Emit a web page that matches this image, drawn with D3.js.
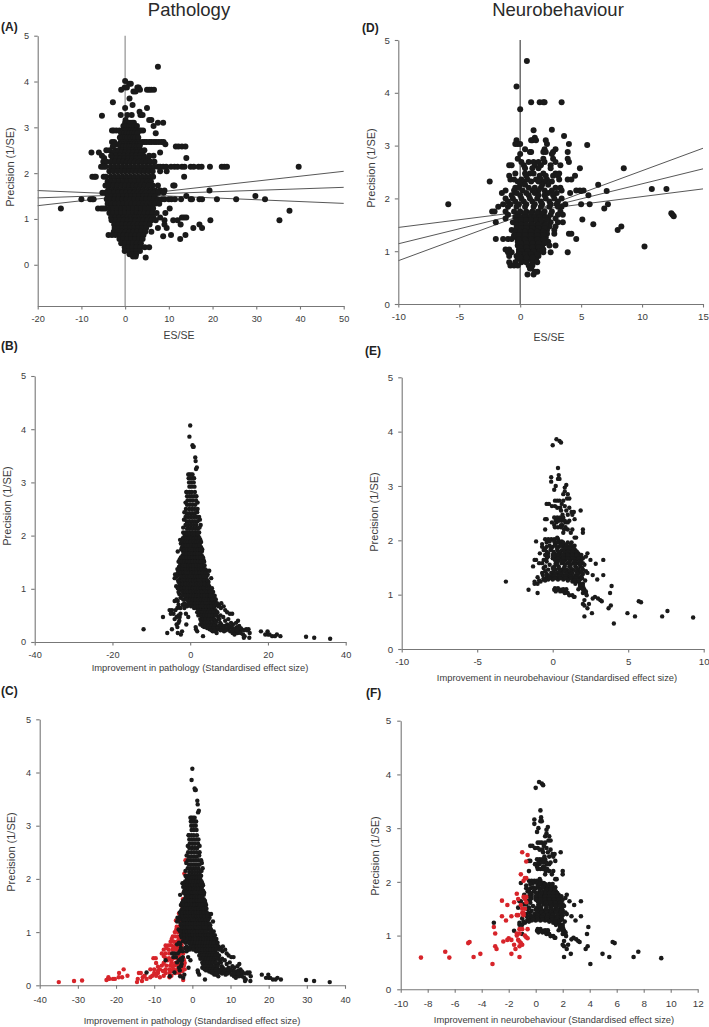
<!DOCTYPE html>
<html><head><meta charset="utf-8">
<script src="https://cdnjs.cloudflare.com/ajax/libs/d3/7.8.5/d3.min.js"></script>
<style>html,body{margin:0;background:#fff}svg{display:block}text{font-family:"Liberation Sans",Arial,sans-serif}</style>
</head><body><div id="c"></div>
<script>
// Each row: [precision, [x values at that precision]]
const rowsA = [
[4.32,[7.5]],[4.01,[0]],[3.95,[.9,1.3]],[3.87,[-.1,.4,2.8,3.1]],[3.82,[-.9,3.4,5,5.5,6,6.6]],[3.78,[1.9,2.4]],[3.63,[1]],[3.55,[-2.8]],[3.49,[1.7]],[3.42,[0,5]],[3.34,[3.3]],[3.27,[-1,.5,1.5,3.5,4]],[3.25,[-5.3]],[3.16,[.1,5.5,6]],[3.1,[0,.5,1.1,1.6,2,7.5,8.7]],[3.03,[-.4,.3,.9,1.5,2.1,2.7,6.5]],
[2.93,[-3,-2.6,-2,-1.3,-.5,.1,.7,1.3,1.9,2.5,3.2,3.6,4.1]],[2.87,[-.9,-.2,.4,1,1.6,2.2,2.8,7]],[2.78,[-1.2,-.6,0,.6,1.2,1.8,2.4,3]],
[2.68,[-3,-2.5,-1,-.4,.2,.8,1.4,2,2.6,3.2,3.9,4.4,4.9,5.5,6,6.6,7.1,7.7,8.3,8.8]],[2.63,[-2.2,-1.4,-.8,-.2,.4,1,1.6,2.2,2.8,3.4,9.2]],
[2.58,[-2.8,-1.1,-.4,.3,.9,1.5,2.1,2.7,3.3,11.6,12.2,13,13.8]],[2.5,[-4.3,-3.5,-2.2,-1.3,-.6,.2,1,1.8,2.6,3.4,4.4]],[2.45,[-7.7,-6,-2.6,-1.7,-.8,.1,1,1.9,2.8,3.7,8]],
[2.38,[-5.3,-3.2,-2,-1.1,-.2,.7,1.6,2.5,3.4,4.2,5.5,6.5]],[2.33,[-4.8,-2.8,-1.9,-1,-.1,.8,1.7,2.6,3.5,4.4,5.3,14]],[2.25,[-5,-4.2,-3.2,-2.3,-1.4,-.5,.4,1.3,2.2,3.1,4,4.9,5.8,6.7]],
[2.14,[-5.5,-5,-4.5,-3.3,-2.4,-1.5,-.6,.3,1.2,2.1,3,3.9,4.8,5.7,6.6,7.5,8,8.7,9.4,10.5,11.3,12,13,13.6,15,15.7,16.8,17.5,19.4,22.1,22.7,23.3,39.7]],
[2.04,[-3.6,-2.7,-1.8,-.9,0,.9,1.8,2.7,3.6,4.5,5.4,6.3,8,9.5]],[1.92,[-7.5,-7,-6.7,-4.9,-4.4,-3.3,-2.4,-1.5,-.6,.3,1.2,2.1,3,3.9,4.8,5.7,6.4,13.5]],
[1.82,[-4,-3.1,-2.2,-1.3,-.4,.5,1.4,2.3,3.2,4.1,5,5.9]],[1.73,[-4.5,-3.6,-2.7,-1.8,-.9,0,.9,1.8,2.7,3.6,4.5,5.4,6.3,7.5,11,11.3]],
[1.62,[-3.9,-3,-2.1,-1.2,-.3,.6,1.5,2.4,3.3,4.2,5.1,6,6.9,8,9,19.3]],[1.57,[-5.2,-4.5,-3.4,-2.5,-1.6,-.7,.2,1.1,2,2.9,3.8,4.7,5.6,6.5,7.6,8.8]],
[1.5,[-4,-3.1,-2.2,-1.3,-.4,.5,1.4,2.3,3.2,4.1,5,5.9,6.8,14,29.8]],[1.43,[-10,-8,-7.5,-7.2,-4.2,-3.3,-2.4,-1.5,-.6,.3,1.2,2.1,3,3.9,4.8,5.7,6.6,7.5,8.4,9,10,10.6,11.4,12.8,15,15.3,17,17.6,21,25.4,32]],
[1.33,[-4,-3.1,-2.2,-1.3,-.4,.5,1.4,2.3,3.2,4.1,5,5.9,6.8,7.8]],[1.23,[-14.7,-6.2,-5.5,-5,-4.5,-3.5,-2.6,-1.7,-.8,.1,1,1.9,2.8,3.7,4.6,5.5,6.4,10.2]],
[1.13,[-3.6,-2.7,-1.8,-.9,0,.9,1.8,2.7,3.6,4.5,5.4,6.3,7.2,9.2]],[1.03,[-3.2,-2.3,-1.4,-.5,.4,1.3,2.2,3.1,4,4.9,5.8,6.5,8,13,13.5,14]],
[.97,[-3.1,-2.1,-1.2,-.3,.6,1.5,2.4,3.3,4.2,5.1,6,7,9,11,12,19.5,35.3]],[.88,[-2.5,-1.6,-.7,.2,1.1,2,2.9,3.8,4.7,5.6,9,12.7,17]],
[1.18,[37.6]],[.8,[-2.4,-1.5,-.6,.3,1.2,2.1,3,3.9,4.8,7.5,9.5,15.6,17.6]],[.72,[-2.6,-1.7,-.8,.1,1,1.9,2.8,3.7,4.6,6]],
[.65,[-3.8,-3,-2.2,-1.2,-.3,.6,1.5,2.4,3.3,4.2,10.5,13.8]],[.62,[8.7]],[.56,[-1.3,-.4,.5,1.4,2.3,3.2,4,12.6]],[.47,[-.9,0,.9,1.8,2.7,3.6]],
[.38,[-.1,.8,1.7,2.6,3.5,4.5,5.5]],[.3,[-.1,.9,1.7,2.5,3.4]],[.23,[1,1.7,2.5]],[.18,[1.8,2.4]],[.16,[4.7]]
];
const linesAxA = [-20,50];
const linesAyA = [[1.29,2.04],[1.46,1.69],[1.62,1.34]];

const rowsD = [
[4.6,[.55]],[4.12,[-.3]],[3.82,[.9,1.6,1.9,2,3.4]],[3.69,[0]],[3.3,[2.6]],[3.29,[1.1]],[3.18,[3.6]],[3.15,[1.2]],[3.1,[-.3,.9,1,1.3,2.1]],[3.03,[-.4,-.2,0,2.2,4]],[3.01,[5.5]],
[2.93,[.4,2,2.9]],[2.88,[.8,.9,1.9,2.1,2.7,3.9]],[2.84,[0,2.6]],[2.75,[-.2,1.9,2.7,3.9]],[2.69,[.1,.7,1.1,1.5,2,2.9,4]],[2.63,[-.9,-.7,.3,1.2,1.7,3.3,2.5]],[2.57,[.4,1,1.5,2.5,4.9,8.5]],
[2.47,[-.4,.4,.8,1.1,1.9,2.9,3.2]],[2.43,[-.9,.5,1.6,2.1,2.7,3.1,4.5]],[2.36,[-.8,-.5,.1,.6,1.3,1.7,2.2,3.2,3.9,4.2]],[2.32,[-2.5,-.2,.3,.9,1.5,2,2.6]],[2.26,[0,.4,1.8,2.3,6.4]],
[2.2,[-.4,-.1,.7,1.2,1.7,2.9,3.3]],[2.18,[10.8,12]],[2.15,[-1.2,-.5,.2,1,1.5,2,2.6,3.4,4.6,4.9,5.2]],[2.1,[-1.5,-.3,.5,1.2,2.3,3,4.1]],[2.14,[7.1,5]],[2.06,[-.7,0,.7,1.5,2,2.7,5.6]],
[2,[-1.2,-.6,.1,.8,1.4,2.1,2.8,3.4]],[1.94,[-1,-.4,.3,1,1.7,2.4,3.1]],[1.89,[-5.9,-1.4,-.8,-.1,.5,1.2,1.8,2.5,3,3.7,5,5.7,7.2]],[1.84,[-1.8,-1,-.3,.4,1.1,1.7,2.4,3.1,3.4]],
[1.81,[6.9]],[1.75,[-2.3,-2.1,-1.2,-.5,0,.5,1,1.5,2,2.6,3.3]],[1.72,[12.4]],[1.69,[-1,-.2,.4,.9,1.4,1.9,2.5,3.1,3.5,12.5]],[1.66,[12.6]],[1.62,[-1.2,-.3,.2,.7,1.2,1.7,2.3,2.9]],
[1.6,[5.1]],[1.55,[-2,-.6,-.1,.4,.9,1.4,1.9,2.5,3.1,3.5]],[1.51,[6]],[1.47,[-.1,.3,.8,1.3,1.8,2.4,2.9,8.3]],[1.4,[-.7,-.3,.2,.7,1.2,1.7,2.2,2.8,8]],[1.33,[-.3,.2,.7,1.2,1.7,2.2,2.8,4,4.2]],
[1.26,[-.3,.1,.6,1.1,1.6,2.1]],[1.23,[-2,-1.4,-1,-.7,4.6]],[1.18,[-.2,.2,.7,1.2,1.7,2.3]],[1.11,[-.2,.3,.8,1.3,1.8,2.4,2.9]],[1.09,[10.2]],[1.03,[-1.2,-.9,-.1,.4,.9,1.4,1.9]],
[.98,[-1,-.7,-.1,.3,.8,1.3,1.9,2.5,3.9]],[.91,[-.9,-.3,.2,.7,1.2,1.5]],[.85,[-.2,.3,.8,1.3]],[.79,[-.9,-.4,.1,.5,1,1.4]],[.73,[-.8,-.5,-.2,.7,1]],[.67,[.8,.9]],[.61,[1.2,1.4]],[.56,[.6,1.1]],
[1.72,[-.1,.4,.9,1.4,1.8]],[1.65,[-.4,0,.4,.8,1.2,1.6,2.1]],[1.59,[-.3,.1,.5,.9,1.3,1.7,2.2]],[1.5,[-.3,.1,.5,1,1.5,2.1]],[1.44,[-.3,.1,.5,1,1.5,2]],[1.37,[-.4,0,.4,.9,1.4,1.9]],[1.3,[-.5,-.1,.4,.9,1.4,1.9]],[1.22,[-.1,.4,.9,1.4,1.9]],[1.15,[0,.5,1,1.5,2]],[1.07,[0,.5,1,1.5]],[1,[.1,.6,1.1,1.6]],[.94,[-.1,.4,.9,1.4]],[.88,[0,.5,1]]
];
const linesDxA = [-10,15];
const linesDyA = [[.82,2.95],[1.14,2.56],[1.45,2.18]];

// Same studies in panels B and C (black points)
const rowsPath = [
[4.07,[0]],[3.86,[-.2]],[3.7,[.6]],[3.67,[.7,.9]],[3.47,[1.3]],[3.4,[1.4]],[3.28,[1.7]],[3.25,[1.5]],[3.15,[-.5,-.2,.2,.6]],[3.08,[-.4,.1,.6,1]],[3,[-.3,.3,.9]],[2.92,[-.2,.4,1.1]],[2.82,[-1,-.9,-.2,.4,1.2]],[2.74,[-.8,-.2,.4,1,1.6]],[2.66,[-.7,0,.7,1.5]],[2.58,[-.8,-.1,.6,1.3]],[2.5,[-1.1,-.3,.4,1.1,1.9]],[2.42,[-.9,-.2,.5,1.2]],[2.35,[-1.2,-.5,.2,.9,1.6,2.3]],[2.27,[-.9,-.2,.5,1.2,1.9]],[2.2,[-1.2,-.5,.2,.9,1.6,2.7]],[2.13,[-.8,-.1,.6,1.3,2]],[2.06,[-1.8,-1.1,-.4,.3,1,1.7,2.3]],[1.99,[-1.4,-.7,0,.7,1.4,2.1]],
[1.92,[-2.6,-2.1,-1.5,-.8,-.1,.6,1.3,2,2.6]],[1.85,[-2.4,-1.7,-1,-.3,.4,1.1,1.8,2.5]],[1.78,[-2.1,-1.4,-.7,0,.7,1.4,2.1,2.8]],[1.7,[-3.2,-1.8,-1.1,-.4,.3,1,1.7,2.4,3]],[1.62,[-2,-1.3,-.6,.1,.8,1.5,2.2,3]],[1.55,[-2.7,-2,-1.3,-.6,.1,.8,1.5,2.2,2.9,3.4]],[1.48,[-2.5,-1.8,-1.1,-.4,.3,1,1.7,2.4,3.1]],[1.41,[-2.9,-2.2,-1.5,-.8,-.1,.6,1.3,2,2.7,3.3]],[1.34,[-3,-2.3,-1.6,-.9,-.2,.5,1.2,1.9,2.6,3.3,4.4,4.9]],[1.27,[-3.9,-2.8,-2.1,-1.4,-.7,0,.7,1.4,2.1,2.8,3.5,4.5]],[1.2,[-4,-2.5,-1.8,-1.1,-.4,.3,1,1.7,2.4,3.1,3.8,5.4]],[1.13,[-3,-2.3,-1.6,-.9,-.2,.5,1.2,1.9,2.6,3.3,4,4.7]],[1.05,[-3.6,-2.8,-2.1,-1.4,-.7,0,.7,1.4,2.1,2.8,3.5,4.2,4.9]],[.98,[-2.5,-1.8,-1.1,-.4,.3,1,1.7,2.4,3.1,3.8,4.5,5.2]],
[.9,[-2.8,-1.5,-.8,-.1,.6,1.3,2,2.7,3.4,4.1,4.8,5.5]],[.83,[-2.5,-1.1,-.4,.3,1,1.7,2.4,3.1,3.8,4.5,5.2,6.2]],[.77,[-4,-3.2,-.5,.2,.9,1.6,2.3,3,3.7,4.4,5.1,5.8,6.4]],[.7,[-3,-1.9,-1.3,-.3,.8,1.5,2.2,2.9,3.6,4.3,5,5.7,7,7.5]],[.64,[-3.3,-2.5,-1.5,1,1.7,2.4,3.1,3.8,4.5,5.2,5.9,7.9]],[.6,[-5.3,-4.7,-3.8,2.1,2.8,3.5,4.2,4.9,5.6,6.5,9]],[.53,[-5,-4.3,-2.5,-1.1,2.5,3.2,3.9,4.6,5.3,6.8,10.2,10.8]],[.47,[-7,-3.5,-2.7,-.5,3,3.7,4.4,5.1,5.8,7.2,8.5]],[.4,[-2.8,2.8,3.5,4.2,4.9,6,6.8,12.3,9]],[.33,[-3.5,-1,2.6,3.4,4.1,5.2,6.5,8,9.5,11]],[.28,[-3.3,1.4,3.6,4.5,5.8,7.1,8.2,10.5,12]],[.24,[-12,-4.7,1.5,5,6.7,7.5,9,9.8,11.3,13.2,14.4,15]],[.2,[-2.1,1.8,5.8,6.4,8.7,10.3,11.5,12.7,18.2,19.9]],[.17,[-3.2,-5.9,6.8,10.9,12.2,13,15.3]],[.14,[-2.4,11.4,13.6,19.3,20,20.4,22.3]],[.11,[3.3,14,21.1,21.8,23.2]],[.1,[29.8]],[.08,[13.8,15.2,31.9]],[.06,[36]],
[2.62,[-1.2,1.9]],[2.44,[-1.5,1.8]],[2.3,[-1.6,2.5]],[2.15,[-1.8,2.4]],
[2.03,[-1.5,-.8,-.1,.6,1.2,1.9]],[1.95,[-1.9,-1.1,-.4,.3,1,1.7,2.4]],[1.88,[-2.1,-1.3,-.6,.1,.8,1.5,2.2,2.8]],[1.81,[-1.8,-1.1,-.4,.3,1,1.7,2.4]],[1.74,[-2.3,-1.5,-.8,-.1,.6,1.3,2,2.7,3.1]],[1.66,[-1.7,-.9,-.2,.5,1.2,1.9,2.6]],[1.59,[-2.4,-1.6,-.9,-.2,.5,1.2,1.9,2.6,3.3]],[1.51,[-3,-2.2,-1.5,-.8,-.1,.6,1.3,2,2.7,3.6]],[1.44,[-2.6,-1.9,-1.2,-.5,.2,.9,1.6,2.3,3,3.7]],[1.37,[-3.3,-2.6,-1.9,-1.2,-.5,.2,.9,1.6,2.3,3,3.8]],[1.3,[-3.2,-2.5,-1.8,-1.1,-.4,.3,1,1.7,2.4,3.1,3.9]],[1.23,[-3.4,-2.2,-1.5,-.8,-.1,.6,1.3,2,2.7,3.4,4.2]],[1.16,[-3.1,-2,-1.3,-.6,.1,.8,1.5,2.2,2.9,3.6,4.4]],[1.09,[-2.7,-1.9,-1.2,-.5,.2,.9,1.6,2.3,3,3.7,4.6]],[1.01,[-3.2,-2.1,-1.4,-.7,0,.7,1.4,2.1,2.8,3.5,4.8,5.6]],[.94,[-3,-2,-1.3,-.6,.1,.8,1.5,2.2,2.9,3.6,4.3,5,5.9]],[.87,[-2,-1.2,-.5,.2,.9,1.6,2.3,3,3.7,4.4,5.1,5.8,6.3]],[.8,[-3.5,-1.8,-.9,0,.7,1.4,2.1,2.8,3.5,4.2,4.9,5.6,6.6]],[.73,[-1.5,-.5,.4,1.2,1.9,2.6,3.3,4,4.7,5.4,6.1,6.9,8]],[.67,[-.8,.2,1.3,2,2.7,3.4,4.1,4.8,5.5,6.2,7.2,8.6]],[.56,[1.8,2.5,3.2,3.9,4.6,5.3,6,7,9.5]],[.5,[-3,2.1,2.9,3.6,4.3,5,5.7,6.5,7.8]],[.43,[-4,2.6,3.3,4,4.7,5.4,6.2,7.5,9.8]],[.36,[-3,3,3.7,4.4,5.1,5.8,6.6,7.7,10.5,11.8]],[.3,[3.2,4,4.8,5.5,6.2,7.4,8.8,10,12.6]],[.26,[4.4,5.3,6,7,8.4,9.4,11,12.5,13]],[.22,[5.5,6.2,7.8,9.2,10.8,12,13.8,14.6]]
];
const redPath = [
[.06,[-35,-14.5]],[.08,[-31,-13.2]],[.09,[-28.9]],[.1,[-22.5,-2.4]],[.12,[-21.8,-20.8,-20.3,-14.3,-12]],[.15,[-22,-19.3,-18.4,-13,-11,-8.5,-6]],[.18,[-17,-12.5,-10.5,-9.5,-7.5,-5.5,-3]],[.23,[-19.2,-14,-13.5,-10,-9,-7,-6,-4.5,-3.5]],[.3,[-18,-11,-10,-8.5,-7,-6,-5,-4,-3,-2]],
[.37,[-8,-6.8,-5.8,-4.7,-3.8,-3,-2.2]],[.42,[-9.5,-7.5,-5.5,-4.5,-3,-2]],[.51,[-10.2,-9.6,-7,-6.1,-5,-4,-3,-2.4]],[.6,[-8,-7,-6,-5,-4.1,-3.2,-2.4]],[.67,[-7.5,-6.2,-5.2,-4.3,-3.5,-2.7]],[.75,[-7,-6.3,-5.5,-4.5,-3.5,-2.8]],[.82,[-5.7,-4.8,-4,-3.2,-2.5]],[.92,[-5.1,-4.5,-3.8,-3,-2.3]],[1,[-4.6,-3.8,-3.2,-2.5]],[1.1,[-4.1,-3.5,-2.8]],[1.22,[-4.3,-3.6,-3]],[1.35,[-3.5,-3.1,-2.7]],[1.5,[-2.8,-2.5]],[1.62,[-2.5,-2.2]],[1.75,[-2.2,-1.8]],[1.9,[-2.1]],[2.1,[-2.1]],[2.35,[-1.8]],
[.27,[-9,-7.7,-5.5,-4.5,-2.6]],[.35,[-9,-5.2,-2.5]],[.47,[-6.5,-5.5,-3.5,-2.2]],[.55,[-7.5,-4.5,-3.5]],[.7,[-6.8,-5,-4,-3]],[.87,[-5.4,-3.6,-2.8]],[1.05,[-4.2,-3.5,-2.8]]
];

const rowsNeuro = [
[3.86,[.25]],[3.83,[.45]],[3.8,[.55]],[3.75,[0]],[3.33,[.35]],[3.2,[.4]],[3.16,[-.1]],[3.13,[.35,.45]],[3.08,[-.1]],[3.02,[.9]],[2.97,[.8]],[3,[.2]],[2.93,[.1]],[2.9,[.8]],[2.85,[.7,1]],[2.77,[.95,1.1]],[2.73,[.15,.3,.45,.7]],[2.67,[-.4,-.25,.6]],[2.63,[-.05,.15,.8]],[2.55,[.55,.9,1.85]],[2.52,[1.25,1.4]],[2.47,[.65,1,1.3]],[2.42,[.1,.3,.5,.7]],[2.39,[-.5,-.4,1.45]],[2.33,[-.05,.25,.85,1]],[2.28,[.1,.55,.65]],[2.2,[-.5,.75,1,1.3,2]],[2.14,[.7,1.2,2]],[2.05,[1.45,1.55,.3]],
[2.02,[-.5,-.3,-.1,.1,.35]],[1.98,[-1.1,-.2,.1,.4,.6]],[1.93,[-.7,.15,.5,.75,1.2]],[1.88,[-.7,-.4,0,.4,.7,1,1.3]],[1.82,[-.6,-.15,.3,.6,.9,1.2,1.5]],[1.76,[-.85,-.3,.15,.5,.8,1.1,1.4,1.7,2.3]],[1.7,[-.3,.2,.5,.85,1.15,1.5,1.8,2.2]],[1.64,[-1.2,-1.1,-.6,.15,.55,.85,1.2,1.55,1.9,2.5,3.35]],[1.58,[-.9,-.7,.2,.6,1,1.35,1.65,2]],[1.57,[2.85]],[1.52,[-1.3,-.5,.1,.4,.8,1.1,1.5,1.85]],[1.46,[-.3,.2,.6,.95,1.35,1.7,2]],[1.4,[-.7,-.1,.3,.6,1,1.3,1.75,2.3]],[1.36,[-.65,-.35,0,.4,.75,1.1,1.5,2.65,3.35]],[1.32,[-1,-.4,-.1,.25,.6,1,1.35,1.75]],[1.28,[-.6,-.3,0,.35,.7,1.05,1.4,1.8,2.95]],[1.24,[-3.1,-1.2,-.8,1.3,1.5,1.7]],[1.2,[-1.2,-1,1.5,1.8,2]],[1.16,[1.8,2,3.9]],[1.12,[.15,.35,1.9,2.05]],[1.09,[-1.6,.1,.3,.55,2.1]],[1.06,[.2,.5,.7,.9,2.2]],[1.03,[-1,.8,1,2,2.2,3.8]],[.99,[1.1,1.3,2.25]],[.96,[1.4,1.45,2.8]],[.93,[2.65,3]],[.9,[2.1,3.15]],[.88,[5.7,3.25]],[.86,[5.85]],[.83,[2,2.4]],[.8,[2.1,3.85]],[.75,[2.3,3.7]],[.7,[7.6]],[.66,[2.6,4.95]],[.6,[2.1,5.45,7.25]],[.58,[9.3]],[.47,[4.05]],
[1.96,[-.4,.3,.7,1,1.25]],[1.9,[-.2,.2,.55,.9,1.15,1.45]],[1.85,[-.5,-.1,.3,.8,1.1,1.4]],[1.79,[-.4,.05,.4,.75,1,1.3,1.6]],[1.73,[-.5,0,.35,.7,1,1.3,1.6,1.9]],[1.67,[-.4,0,.35,.7,1,1.35,1.7,2]],[1.61,[-.4,.35,.75,1.1,1.45,1.8]],[1.55,[-.2,.3,.8,1.2,1.5,1.8,2.1]],[1.49,[-.6,0,.4,.75,1.2,1.6,1.95]],[1.43,[-.5,.05,.45,.8,1.15,1.55,1.9,2.2]],[1.38,[-.4,.15,.55,.9,1.25,1.65,2]],[1.34,[-.2,.1,.45,.85,1.2,1.6,1.9]],[1.3,[-.6,-.2,.15,.5,.85,1.2,1.55,1.95]],[1.26,[-.9,-.5,1,1.45,1.75,2.15]],[1.1,[.7,.9,1.7,2]],[2.36,[.2,.4,.6,.8,1.1]],[2.24,[.15,.35,.55,.85]],[2.6,[.3,.5,1.1]]
];
const redNeuro = [
[2.55,[-1]],[2.5,[-.6]],[2.38,[-.7]],[2.14,[-1.1]],[2.07,[-.8,-.7]],[2.02,[-.9]],[1.78,[-1.4]],[1.72,[-.9,-.7]],[1.68,[-1.3,-.8]],[1.65,[-2.5]],[1.62,[-1.6,-.7]],[1.57,[-2.1,-1.1]],[1.5,[-1,-.8]],[1.42,[-1,-.9]],[1.38,[-1.4,-1.3,-.9]],[1.36,[-2.5,-1.8]],[1.28,[-2.2]],[1.16,[-3.1]],[1.12,[-1.2,-1,-.6]],[1.04,[-3,-1.4,-1.2]],[1,[-1.4,-.8]],[.97,[-.7]],[.95,[-2,-.6]],[.92,[-2.1,-1.8,-1.3]],[.89,[-2.4,-1.2]],[.88,[-4.9]],[.86,[-5,-1.1]],[.83,[-1.6,-1]],[.8,[-3,-1.2]],[.75,[-2.9,-1.5]],[.7,[-6.7]],[.66,[-4.1,-1.8]],[.6,[-4.6,-1.2]],[.59,[-8.5,-6.4]],[.47,[-3.2]]
];

const flat = rows => rows.flatMap(([y, xs]) => xs.map(x => ({x, y})));
const W = 709, H = 1027, INK = "#1a1a1a", RED = "#d7242a", AXIS = "#777", LABEL = "#3c3c3c";
const svg = d3.select("#c").append("svg").attr("width", W).attr("height", H);

function panel(o) {
  const g = svg.append("g");
  const x = d3.scaleLinear().domain(o.xd).range([o.l, o.r]);
  const y = d3.scaleLinear().domain([o.yMin, 5]).range([o.b, o.t]);
  const xa = d3.axisBottom(x).tickValues(o.xt).tickSize(3.5).tickSizeOuter(0).tickPadding(o.xPad).tickFormat(String);
  const ya = d3.axisLeft(y).tickValues([0,1,2,3,4,5]).tickSize(3.5).tickSizeOuter(0).tickPadding(o.yPad).tickFormat(String);
  if (o.lines) o.lines.forEach(ys => g.append("line")
    .attr("x1", x(o.lineX[0])).attr("x2", x(o.lineX[1])).attr("y1", y(ys[0])).attr("y2", y(ys[1]))
    .attr("stroke", "#444").attr("stroke-width", .9));
  if (o.zero) g.append("line").attr("x1", x(0)).attr("x2", x(0)).attr("y1", o.t).attr("y2", o.b)
    .attr("stroke", o.zero).attr("stroke-width", 1.3);
  const dots = (d, c) => g.append("g").attr("fill", c).selectAll("circle").data(d).join("circle")
    .attr("cx", p => x(p.x)).attr("cy", p => y(p.y)).attr("r", o.rad);
  if (o.redUnder && o.red) dots(flat(o.red), RED);
  dots(flat(o.rows), INK);
  if (!o.redUnder && o.red) dots(flat(o.red), RED);
  for (const [ax, tr] of [[xa, `translate(0,${o.b})`], [ya, `translate(${o.l},0)`]]) {
    const a = g.append("g").attr("transform", tr).call(ax);
    a.selectAll("path,line").attr("stroke", AXIS).attr("stroke-width", 1.1);
    a.selectAll("text").attr("font-size", o.tickFs).attr("fill", LABEL).attr("font-family", '"Liberation Sans",Arial,sans-serif');
  }
  g.append("text").attr("x", o.xtx).attr("y", o.xty).attr("text-anchor", "middle").attr("font-size", o.xFs).attr("fill", LABEL).text(o.xTitle);
  g.append("text").attr("transform", `translate(${o.ytx},${o.yty}) rotate(-90)`).attr("text-anchor", "middle").attr("font-size", o.yFs).attr("fill", LABEL).text("Precision (1/SE)");
  g.append("text").attr("x", o.tagX).attr("y", o.tagY).attr("font-size", 12).attr("font-weight", "bold").attr("fill", "#222").text(o.tag);
}

const path = "Improvement in pathology (Standardised effect size)";
const neuro = "Improvement in neurobehaviour (Standardised effect size)";
const t40 = [-40,-20,0,20,40];

panel({tag:"(A)",tagX:1,tagY:31,rows:rowsA,xd:[-20,50],yMin:-.9,l:37.7,r:343.7,t:35.7,b:306,rad:3,xt:d3.range(-20,51,10),xPad:6,yPad:5,tickFs:9.2,
  zero:"#999",lines:linesAyA,lineX:linesAxA,xTitle:"ES/SE",xtx:179,xty:339,xFs:10.5,ytx:14,yty:167,yFs:11});
panel({tag:"(D)",tagX:362,tagY:32,rows:rowsD,xd:[-10,15],yMin:0,l:398.3,r:703,t:40,b:304,rad:3,xt:d3.range(-10,16,5),xPad:6,yPad:5,tickFs:9.7,
  zero:"#555",lines:linesDyA,lineX:linesDxA,xTitle:"ES/SE",xtx:549,xty:341,xFs:10.5,ytx:375,yty:168,yFs:11});
panel({tag:"(B)",tagX:1,tagY:350,rows:rowsPath,xd:[-40,40],yMin:0,l:34.7,r:345.7,t:376,b:642,rad:2.2,xt:t40,xPad:6,yPad:5,tickFs:9.2,
  xTitle:path,xtx:200,xty:671,xFs:9.4,ytx:11,yty:506,yFs:11});
panel({tag:"(E)",tagX:365,tagY:355,rows:rowsNeuro,xd:[-10,10],yMin:0,l:401.7,r:703.7,t:377.3,b:649,rad:2.2,xt:[-10,-5,0,5,10],xPad:6,yPad:5,tickFs:9.7,
  xTitle:neuro,xtx:557,xty:681,xFs:9.35,ytx:378,yty:512,yFs:11});
panel({tag:"(C)",tagX:1,tagY:695,rows:rowsPath,red:redPath,redUnder:true,xd:[-40,40],yMin:0,l:39.7,r:345,t:719.3,b:985.3,rad:2.2,xt:d3.range(-40,41,10),xPad:7.5,yPad:5,tickFs:9.2,
  xTitle:path,xtx:192,xty:1024,xFs:9.4,ytx:15,yty:852,yFs:11});
panel({tag:"(F)",tagX:366,tagY:697,rows:rowsNeuro,red:redNeuro,xd:[-10,12],yMin:0,l:400.7,r:697.7,t:720.7,b:989.3,rad:2.3,xt:d3.range(-10,13,2),xPad:7.5,yPad:6,tickFs:9.9,
  xTitle:neuro,xtx:554,xty:1023,xFs:9.35,ytx:379,yty:856,yFs:11});

for (const [t, cx] of [["Pathology",189],["Neurobehaviour",558]])
  svg.append("text").attr("x", cx).attr("y", 15.5).attr("text-anchor","middle").attr("font-size",18.5).attr("fill","#2a2a2a").text(t);
</script></body></html>
